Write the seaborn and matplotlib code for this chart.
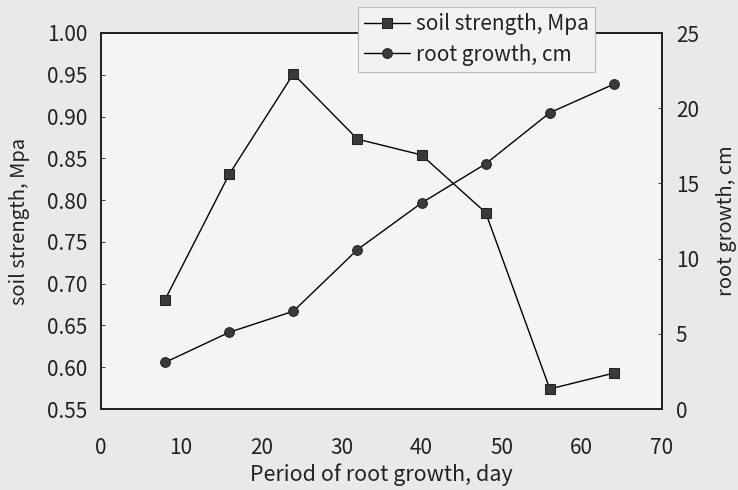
import matplotlib
matplotlib.use("Agg")
import matplotlib.pyplot as plt
import seaborn as sns
import pandas as pd

days = [8, 16, 24, 32, 40, 48, 56, 64]
soil_strength = [0.681, 0.831, 0.951, 0.873, 0.854, 0.785, 0.574, 0.593]
root_growth = [3.1, 5.1, 6.5, 10.6, 13.7, 16.3, 19.7, 21.6]
x_ticks = [0, 10, 20, 30, 40, 50, 60, 70]
left_ticks = [0.55, 0.60, 0.65, 0.70, 0.75, 0.80, 0.85, 0.90, 0.95, 1.00]
right_ticks = [0, 5, 10, 15, 20, 25]

sns.set_style("white")
plt.rcParams['font.family'] = ['Noto Sans CJK JP', 'DejaVu Sans']

df = pd.DataFrame({"day": days, "soil": soil_strength, "root": root_growth})

fig = plt.figure(figsize=(7.38, 4.90), dpi=100)
fig.patch.set_facecolor("#e9e9e9")
ax = fig.add_axes([101/738, 1-409/490, (662-101)/738, (409-33)/490])
ax.set_facecolor("#f4f4f4")
ax2 = ax.twinx()

txt = "#222222"
sns.lineplot(data=df, x="day", y="soil", ax=ax, color="black", linewidth=1.0,
             marker="s", markersize=7.5, markerfacecolor="#3a3a3a",
             markeredgecolor="#222222", label="soil strength, Mpa", legend=False)
sns.lineplot(data=df, x="day", y="root", ax=ax2, color="black", linewidth=1.0,
             marker="o", markersize=7, markerfacecolor="#3a3a3a",
             markeredgecolor="#222222", label="root growth, cm", legend=False)

ax.set_xlim(0, 70)
ax.set_ylim(0.55, 1.00)
ax2.set_ylim(0, 25)
ax.set_xticks(x_ticks)
ax.set_yticks(left_ticks)
ax.set_yticklabels([f"{v:.2f}" for v in left_ticks])
ax2.set_yticks(right_ticks)
ax.set_xlabel("Period of root growth, day", fontsize=15.5, color=txt, labelpad=3)
ax.set_ylabel("soil strength, Mpa", fontsize=14.5, color=txt, labelpad=12)
ax2.set_ylabel("root growth, cm", fontsize=14.5, color=txt, labelpad=12)

for a in (ax, ax2):
    a.tick_params(axis="both", labelsize=15, colors=txt, direction="in",
                  length=3, width=0.6, pad=10)
    for s in a.spines.values():
        s.set_color("#222222")
        s.set_linewidth(1.3)
ax.tick_params(axis="x", pad=20)

h1, l1 = ax.get_legend_handles_labels()
h2, l2 = ax2.get_legend_handles_labels()
leg = fig.legend(h1 + h2, l1 + l2, loc="upper left",
                 bbox_to_anchor=(358/738, 1-7/490), bbox_transform=fig.transFigure,
                 fontsize=15, frameon=True, fancybox=False, handlelength=2.2,
                 handletextpad=0.3, borderpad=0.3, labelspacing=0.4,
                 borderaxespad=0)
leg.get_frame().set_facecolor("#f2f2f2")
leg.get_frame().set_edgecolor("#bbbbbb")
leg.get_frame().set_linewidth(0.8)
leg.get_frame().set_alpha(1)
for t in leg.get_texts():
    t.set_color(txt)

fig.savefig("out.png", dpi=100, facecolor=fig.get_facecolor())
